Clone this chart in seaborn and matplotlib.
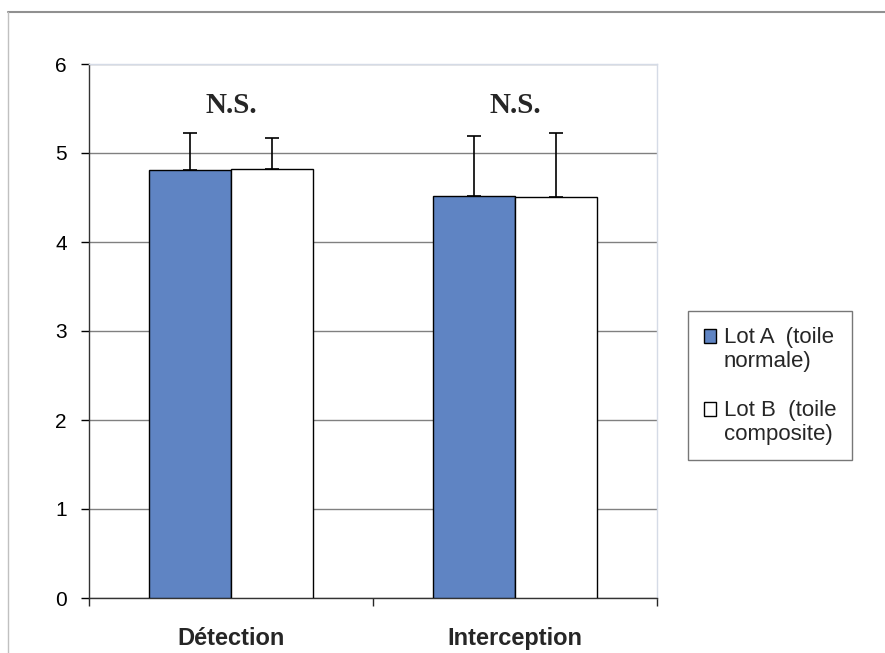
import matplotlib
matplotlib.use("Agg")
import matplotlib.pyplot as plt
from matplotlib.lines import Line2D
from matplotlib.patches import Rectangle
from matplotlib.legend_handler import HandlerPatch
import seaborn as sns
import pandas as pd
import numpy as np

# données
categories = ["Détection", "Interception"]
lots = ["Lot A  (toile\nnormale)", "Lot B  (toile\ncomposite)"]
lot_a_moy = [4.81, 4.52]
lot_b_moy = [4.82, 4.51]
lot_a_err = [0.41, 0.67]
lot_b_err = [0.35, 0.71]
annotations = ["N.S.", "N.S."]

df = pd.DataFrame({
    "categorie": categories * 2,
    "lot": [lots[0]] * 2 + [lots[1]] * 2,
    "valeur": lot_a_moy + lot_b_moy,
    "err": lot_a_err + lot_b_err,
})

sns.set_style("white")
plt.rcParams["font.family"] = ["Liberation Sans", "DejaVu Sans"]

fig = plt.figure(figsize=(8.85, 6.53), dpi=100)
ax = fig.add_axes([89 / 885, 55 / 653, 568 / 885, 534 / 653])

sns.barplot(data=df, x="categorie", y="valeur", hue="lot", order=categories,
            hue_order=lots, palette=["#4e7fd4", "#ffffff"], width=0.58,
            errorbar=None, edgecolor="black", linewidth=1.0, ax=ax, zorder=3)

# barres d'erreur (vers le haut seulement)
for cont, lot in zip(ax.containers, lots):
    sub = df[df["lot"] == lot].set_index("categorie").loc[categories]
    xs = [p.get_x() + p.get_width() / 2 for p in cont]
    ax.errorbar(xs, sub["valeur"], yerr=[np.zeros(len(xs)), sub["err"]],
                fmt="none", ecolor="black", elinewidth=1.2, capsize=4.7,
                capthick=1.2, zorder=4)

for i, txt in enumerate(annotations):
    ax.text(i, 5.53, txt, ha="center", va="center", fontsize=21,
            fontweight="bold", family="Liberation Serif")

ax.set_ylim(0, 6)
ax.set_xlim(-0.5, 1.5)
ax.set_yticks(range(0, 7))
ax.yaxis.grid(True, color="#808080", linewidth=1.0, zorder=0)
ax.set_axisbelow(True)
ax.tick_params(axis="y", direction="out", length=6, width=1, colors="black",
               labelsize=15, left=True, pad=10)
ax.set_xticks(range(len(categories)))
ax.set_xticklabels(categories, fontsize=17, fontweight="bold")
ax.set_xticks([-0.5, 0.5, 1.5], minor=True)
ax.tick_params(axis="x", which="major", length=0, pad=21)
ax.tick_params(axis="x", which="minor", direction="out", length=6, width=1,
               bottom=True)
ax.set_xlabel("")
ax.set_ylabel("")

for s in ["left", "bottom"]:
    ax.spines[s].set_color("#333333")
    ax.spines[s].set_linewidth(1.0)
for s in ["top", "right"]:
    ax.spines[s].set_color("#d5dbe6")
    ax.spines[s].set_linewidth(1.0)


# carré de légende aligné sur la première ligne du texte
def carre_haut(legend, orig_handle, xdescent, ydescent, width, height, fontsize):
    return Rectangle((-xdescent, -ydescent + 0.6 * fontsize), width, height)


handles, labels = ax.get_legend_handles_labels()
leg = ax.legend(handles, labels, loc="upper left",
                bbox_to_anchor=(688 / 885, 1 - 311 / 653),
                bbox_transform=fig.transFigure, fontsize=16, frameon=True,
                fancybox=False, edgecolor="#555555", handlelength=0.55,
                handleheight=0.55, handletextpad=0.35, labelspacing=1.25,
                borderpad=0.7, borderaxespad=0,
                handler_map={h: HandlerPatch(patch_func=carre_haut) for h in handles})
leg.get_frame().set_linewidth(1.0)

# cadre du graphique
fig.add_artist(Line2D([8 / 885, 1.0], [1 - 12 / 653, 1 - 12 / 653],
                      transform=fig.transFigure, color="#909090", lw=1.5))
fig.add_artist(Line2D([8 / 885, 8 / 885], [0.0, 1 - 12 / 653],
                      transform=fig.transFigure, color="#c0c0c0", lw=1.0))

fig.savefig("out.png", dpi=100)
